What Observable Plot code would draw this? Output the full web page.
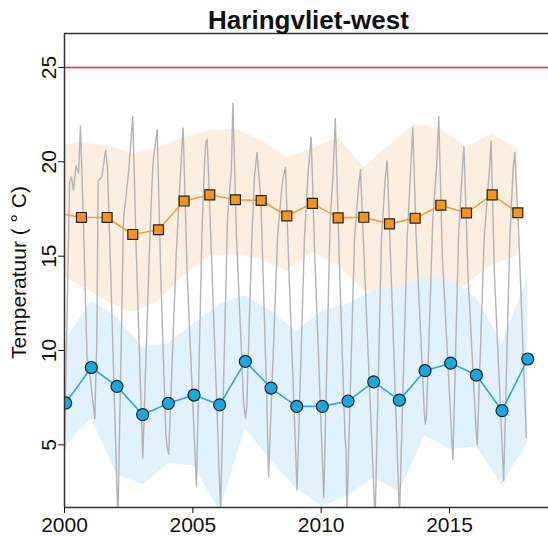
<!DOCTYPE html>
<html>
<head>
<meta charset="utf-8">
<script src="https://cdn.jsdelivr.net/npm/d3@7"></script>
<script src="https://cdn.jsdelivr.net/npm/@observablehq/plot@0.6"></script>
<style>
  html, body { margin: 0; padding: 0; background: #fff; overflow: hidden; }
</style>
</head>
<body>
<div id="chart"></div>
<script>
// Water temperature, Haringvliet-west
const chartTitle = "Haringvliet-west";
const yLabel = "Temperatuur ( \u00b0 C)";
const threshold = 25;

// Summer mean and range (dates as decimal years)
const summerDate = [1999.66, 2000.66, 2001.66, 2002.66, 2003.66, 2004.66, 2005.66, 2006.66, 2007.66, 2008.66, 2009.66, 2010.66, 2011.66, 2012.66, 2013.66, 2014.66, 2015.66, 2016.66, 2017.66];
const summerMean = [17.3, 17.05, 17.05, 16.15, 16.4, 17.92, 18.25, 17.99, 17.95, 17.13, 17.8, 17.03, 17.06, 16.71, 17.01, 17.7, 17.29, 18.25, 17.3];
const summerLow  = [14.2, 13.4, 12.6, 12.0, 12.6, 14.0, 15.0, 15.1, 14.8, 14.2, 15.2, 14.5, 13.2, 12.6, 12.0, 12.6, 13.5, 14.5, 15.0];
const summerHigh = [20.8, 21.03, 20.85, 20.41, 20.76, 21.29, 21.65, 21.74, 21.12, 20.23, 20.68, 21.29, 19.7, 20.85, 22.0, 21.74, 20.76, 21.47, 20.68];

// Winter mean and range
const winterDate = [2000.045, 2001.045, 2002.045, 2003.045, 2004.045, 2005.045, 2006.045, 2007.045, 2008.045, 2009.045, 2010.045, 2011.045, 2012.045, 2013.045, 2014.045, 2015.045, 2016.045, 2017.045, 2018.045];
const winterMean = [7.22, 9.1, 8.1, 6.6, 7.2, 7.64, 7.12, 9.42, 8.01, 7.04, 7.04, 7.32, 8.34, 7.37, 8.93, 9.33, 8.7, 6.81, 9.55];
const winterLow  = [4.9, 6.38, 3.42, 2.89, 4.0, 3.89, 1.5, 5.85, 4.16, 2.68, 1.7, 2.3, 3.25, 2.5, 5.48, 4.74, 4.9, 2.89, 5.1];
const winterHigh = [10.52, 12.64, 11.75, 10.15, 10.36, 11.42, 12.48, 12.9, 12.11, 11.0, 12.11, 12.48, 13.17, 13.34, 13.87, 13.7, 12.81, 10.36, 13.87];

// Individual measurements
const obsDate = [
  2000.0, 2000.2, 2000.27, 2000.35, 2000.45, 2000.55, 2000.62, 2000.7, 2000.88, 2000.95,
  2001.18, 2001.26, 2001.31, 2001.45, 2001.6, 2001.67, 2001.79,
  2002.08, 2002.3, 2002.4, 2002.5, 2002.66, 2002.8,
  2003.05, 2003.3, 2003.4, 2003.45, 2003.61, 2003.75, 2003.95,
  2004.0, 2004.06, 2004.1, 2004.35, 2004.5, 2004.62, 2004.78,
  2005.14, 2005.35, 2005.45, 2005.5, 2005.56, 2005.7,
  2006.08, 2006.35, 2006.45, 2006.5, 2006.56, 2006.7,
  2006.98, 2007.05, 2007.1, 2007.3, 2007.4, 2007.5, 2007.65, 2007.88,
  2007.95, 2008.3, 2008.45, 2008.5, 2008.61, 2008.75,
  2009.06, 2009.35, 2009.5, 2009.61, 2009.75,
  2010.1, 2010.35, 2010.45, 2010.55, 2010.7,
  2010.93, 2010.97, 2011.0, 2011.3, 2011.45, 2011.53, 2011.7,
  2012.1, 2012.35, 2012.5, 2012.57, 2012.7,
  2013.05, 2013.35, 2013.5, 2013.57, 2013.7,
  2014.02, 2014.06, 2014.1, 2014.35, 2014.5, 2014.58, 2014.72,
  2015.13, 2015.35, 2015.5, 2015.56, 2015.72,
  2016.04, 2016.08, 2016.35, 2016.55, 2016.62, 2016.75,
  2017.11, 2017.35, 2017.48, 2017.54, 2017.7, 2017.99
];
const obsTemp = [
  4.7, 18.9, 19.2, 18.5, 19.8, 19.4, 21.9, 18.5, 9.6, 9.2,
  6.4, 10.5, 19.0, 19.2, 20.6, 19.8, 14.6,
  1.0, 17.0, 18.2, 19.5, 22.4, 15.0,
  4.3, 15.0, 18.5, 20.0, 21.7, 14.0, 5.5,
  4.9, 4.5, 6.0, 15.0, 19.0, 21.8, 14.0,
  2.8, 16.0, 19.8, 21.0, 21.2, 16.0,
  1.5, 17.0, 18.8, 19.5, 23.1, 16.0,
  7.2, 6.4, 7.0, 16.0, 19.2, 20.5, 18.0, 7.4,
  3.3, 16.0, 18.4, 19.0, 19.7, 14.0,
  2.6, 16.0, 19.6, 21.3, 15.0,
  2.2, 17.0, 19.0, 22.3, 15.0,
  5.3, 4.8, 1.2, 16.0, 18.6, 19.6, 14.0,
  1.0, 16.0, 19.2, 20.05, 15.0,
  1.2, 16.0, 20.0, 21.8, 16.0,
  6.6, 6.1, 6.5, 17.0, 19.8, 22.4, 15.0,
  4.2, 16.0, 19.6, 20.8, 14.0,
  5.6, 5.0, 16.0, 19.5, 21.1, 14.0,
  3.1, 16.0, 19.7, 20.5, 16.0, 5.4
];

const xTicks = [2000, 2005, 2010, 2015];
const yTicks = [5, 10, 15, 20, 25];
const xDomain = [2000, 2018.855];
const yDomain = [1.68, 26.8];

const summer = summerDate.map((d, i) => ({date: d, mean: summerMean[i], low: summerLow[i], high: summerHigh[i]}));
const winter = winterDate.map((d, i) => ({date: d, mean: winterMean[i], low: winterLow[i], high: winterHigh[i]}));
const obs = obsDate.map((d, i) => ({date: d, temp: obsTemp[i]}));

const chart = Plot.plot({
  width: 548,
  height: 537,
  marginTop: 33,
  marginBottom: 30,
  marginLeft: 64,
  marginRight: 0,
  style: "font-family: 'Liberation Sans', Arial, sans-serif; font-size: 22px; color: #111; background: #fff;",
  x: {domain: xDomain, axis: null},
  y: {domain: yDomain, axis: null},
  marks: [
    Plot.areaY(summer, {x: "date", y1: "low", y2: "high", fill: "#fdeee2", clip: true}),
    Plot.areaY(winter, {x: "date", y1: "low", y2: "high", fill: "#e2f2fc", clip: true}),
    Plot.line(obs, {x: "date", y: "temp", stroke: "#b3b3b3", strokeWidth: 1.4, clip: true}),
    Plot.ruleY([threshold], {stroke: "#e0312f", strokeWidth: 1.6}),
    Plot.line(summer, {x: "date", y: "mean", stroke: "#f2a03d", strokeWidth: 1.6, clip: true}),
    Plot.dot(summer, {x: "date", y: "mean", symbol: "square", r: 5.6, fill: "#f7941d", stroke: "#222", strokeWidth: 1.2, clip: true}),
    Plot.line(winter, {x: "date", y: "mean", stroke: "#2aa8d8", strokeWidth: 1.6, clip: true}),
    Plot.dot(winter, {x: "date", y: "mean", r: 6, fill: "#1aa7e0", stroke: "#222", strokeWidth: 1.2, clip: true}),
    // box: top, left and bottom edges
    Plot.ruleY([yDomain[1]], {stroke: "#333", strokeWidth: 1.5}),
    Plot.ruleY([yDomain[0]], {stroke: "#333", strokeWidth: 1.5}),
    Plot.ruleX([xDomain[0]], {stroke: "#333", strokeWidth: 1.5}),
    Plot.axisX(xTicks, {tickSize: 6, tickPadding: 4, tickFormat: d => String(d), fontSize: 21, label: null}),
    Plot.axisY(yTicks, {tickSize: 6, tickRotate: -90, fontSize: 21, label: null}),
    Plot.text([yLabel], {frameAnchor: "left", dx: -45, dy: 2, rotate: -90, fontSize: 21, textAnchor: "middle", lineAnchor: "middle"}),
    Plot.text([chartTitle], {frameAnchor: "top", dx: 2, dy: -5, lineAnchor: "bottom", fontSize: 26, fontWeight: "bold"})
  ]
});
document.getElementById("chart").appendChild(chart);
</script>
</body>
</html>
